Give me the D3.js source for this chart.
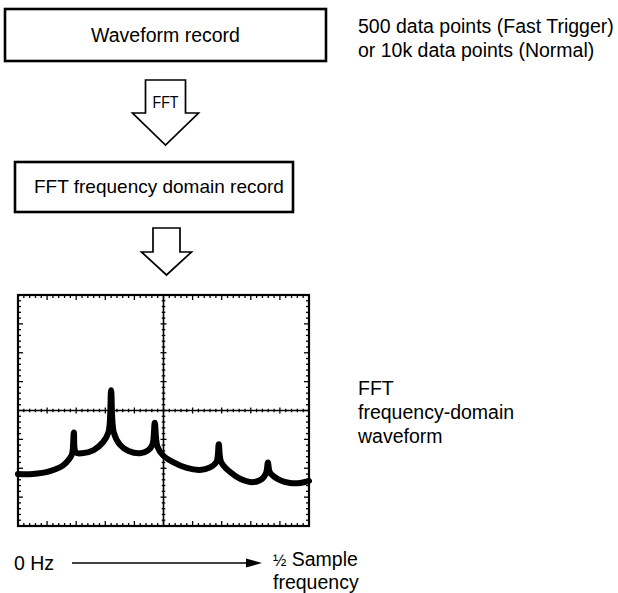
<!DOCTYPE html>
<html>
<head>
<meta charset="utf-8">
<script src="https://cdn.jsdelivr.net/npm/d3@7"></script>
<style>
  html, body { margin: 0; padding: 0; background: #fff; }
  text { font-family: "Liberation Sans", Arial, Helvetica, sans-serif; fill: #000; }
</style>
</head>
<body>
<script>
// ---- data ----
const boxLabels = ["Waveform record", "FFT frequency domain record"];
const arrowLabel = "FFT";
const topNote = ["500 data points (Fast Trigger)", "or 10k data points (Normal)"];
const sideNote = ["FFT", "frequency-domain", "waveform"];
const axisStartLabel = "0 Hz";
const axisEndLabel = ["½ Sample", "frequency"];
const xDivisions = 10;   // horizontal graticule divisions
const yDivisions = 8;    // vertical graticule divisions
const minorPerDiv = 5;
// waveform trace, in graticule divisions (x: 0..10, y: 0..8 from bottom)
const waveX = [0, 0.5, 1.1, 1.55, 1.78, 1.86, 1.92, 1.99, 2.2, 2.6, 2.92, 3.11, 3.20, 3.29, 3.50, 3.80, 4.20, 4.47, 4.62, 4.70, 4.79, 4.98, 5.33, 5.80, 6.25, 6.60, 6.82, 6.90, 6.98, 7.30, 7.65, 8.08, 8.40, 8.53, 8.59, 8.66, 9.0, 9.35, 9.70, 10.0];
const waveY = [1.80, 1.80, 1.90, 2.10, 2.35, 2.50, 3.24, 2.55, 2.52, 2.63, 2.90, 3.25, 4.70, 3.25, 2.82, 2.60, 2.52, 2.62, 2.82, 3.58, 2.75, 2.45, 2.21, 2.01, 1.94, 2.03, 2.22, 2.83, 2.22, 1.86, 1.63, 1.52, 1.64, 1.85, 2.20, 1.85, 1.59, 1.49, 1.49, 1.56];

// ---- layout ----
const W = 618, H = 593;
const svg = d3.select("body").append("svg").attr("width", W).attr("height", H);
const FS = 19.5;

// Boxes
const box1 = {x: 5, y: 9, w: 321, h: 52};
const box2 = {x: 15, y: 162, w: 278, h: 50};
svg.append("rect").attr("x", box1.x).attr("y", box1.y).attr("width", box1.w).attr("height", box1.h)
  .attr("fill", "none").attr("stroke", "#000").attr("stroke-width", 2.6);
svg.append("text").attr("x", box1.x + box1.w / 2).attr("y", 42).attr("text-anchor", "middle")
  .attr("font-size", FS).text(boxLabels[0]);
svg.append("rect").attr("x", box2.x).attr("y", box2.y).attr("width", box2.w).attr("height", box2.h)
  .attr("fill", "none").attr("stroke", "#000").attr("stroke-width", 2.6);
svg.append("text").attr("x", 34).attr("y", 193).attr("font-size", 19).text(boxLabels[1]);

// Hollow block arrows
function blockArrow(cx, top, shaftHalf, shoulder, headHalf, tip) {
  const p = d3.path();
  p.moveTo(cx - shaftHalf, top);
  p.lineTo(cx + shaftHalf, top);
  p.lineTo(cx + shaftHalf, shoulder);
  p.lineTo(cx + headHalf, shoulder);
  p.lineTo(cx, tip);
  p.lineTo(cx - headHalf, shoulder);
  p.lineTo(cx - shaftHalf, shoulder);
  p.closePath();
  svg.append("path").attr("d", p.toString()).attr("fill", "#fff")
    .attr("stroke", "#000").attr("stroke-width", 1.7).attr("stroke-linejoin", "miter");
}
blockArrow(165.5, 80, 20, 113, 33, 145);
svg.append("text").attr("x", 165.5).attr("y", 108).attr("text-anchor", "middle")
  .attr("font-size", 16).attr("textLength", 26).attr("lengthAdjust", "spacingAndGlyphs").text(arrowLabel);
blockArrow(166.5, 228, 13.5, 252, 25, 275);

// Notes
svg.append("g").selectAll("text").data(topNote).join("text")
  .attr("x", 358).attr("y", (d, i) => 33 + i * 24).attr("font-size", FS).text(d => d);
svg.append("g").selectAll("text").data(sideNote).join("text")
  .attr("x", 358).attr("y", (d, i) => 395 + i * 24).attr("font-size", FS).text(d => d);

// ---- graticule ----
const gx0 = 18, gx1 = 309, gy0 = 295, gy1 = 526;
const x = d3.scaleLinear().domain([0, xDivisions]).range([gx0, gx1]);
const y = d3.scaleLinear().domain([0, yDivisions]).range([gy1, gy0]);
const g = svg.append("g");

const xt = d3.range(1, xDivisions * minorPerDiv).map(i => ({v: i / minorPerDiv, major: i % minorPerDiv === 0}));
const yt = d3.range(1, yDivisions * minorPerDiv).map(i => ({v: i / minorPerDiv, major: i % minorPerDiv === 0}));
const tl = d => d.major ? 5 : 3;
const tickStyle = sel => sel.attr("stroke", "#000").attr("stroke-width", 1.3);

// bottom & top border ticks (inward)
g.append("g").selectAll("line").data(xt).join("line")
  .attr("x1", d => x(d.v)).attr("x2", d => x(d.v))
  .attr("y1", y(0)).attr("y2", d => y(0) - tl(d)).call(tickStyle);
g.append("g").selectAll("line").data(xt).join("line")
  .attr("x1", d => x(d.v)).attr("x2", d => x(d.v))
  .attr("y1", y(yDivisions)).attr("y2", d => y(yDivisions) + tl(d)).call(tickStyle);
// left & right border ticks (inward)
g.append("g").selectAll("line").data(yt).join("line")
  .attr("y1", d => y(d.v)).attr("y2", d => y(d.v))
  .attr("x1", x(0)).attr("x2", d => x(0) + tl(d)).call(tickStyle);
g.append("g").selectAll("line").data(yt).join("line")
  .attr("y1", d => y(d.v)).attr("y2", d => y(d.v))
  .attr("x1", x(xDivisions)).attr("x2", d => x(xDivisions) - tl(d)).call(tickStyle);
// center-line ticks (crossing)
const cx = x(xDivisions / 2), cy = y(yDivisions / 2);
g.append("g").selectAll("line").data(xt).join("line")
  .attr("x1", d => x(d.v)).attr("x2", d => x(d.v))
  .attr("y1", d => cy - tl(d) * 0.6).attr("y2", d => cy + tl(d) * 0.6).call(tickStyle);
g.append("g").selectAll("line").data(yt).join("line")
  .attr("y1", d => y(d.v)).attr("y2", d => y(d.v))
  .attr("x1", d => cx - tl(d) * 0.6).attr("x2", d => cx + tl(d) * 0.6).call(tickStyle);

// center lines
g.append("line").attr("x1", cx).attr("x2", cx).attr("y1", y(0)).attr("y2", y(yDivisions))
  .attr("stroke", "#000").attr("stroke-width", 1.6);
g.append("line").attr("y1", cy).attr("y2", cy).attr("x1", x(0)).attr("x2", x(xDivisions))
  .attr("stroke", "#000").attr("stroke-width", 1.6);
// border
g.append("rect").attr("x", x(0)).attr("y", y(yDivisions))
  .attr("width", x(xDivisions) - x(0)).attr("height", y(0) - y(yDivisions))
  .attr("fill", "none").attr("stroke", "#000").attr("stroke-width", 2.2);

// waveform
const wave = waveX.map((v, i) => [v, waveY[i]]);
const line = d3.line().x(d => x(d[0])).y(d => y(d[1])).curve(d3.curveCatmullRom.alpha(0.5));
g.append("path").attr("d", line(wave)).attr("fill", "none").attr("stroke", "#000")
  .attr("stroke-width", 6).attr("stroke-linejoin", "round").attr("stroke-linecap", "round");

// ---- frequency arrow ----
svg.append("text").attr("x", 14).attr("y", 570).attr("font-size", FS).text(axisStartLabel);
svg.append("line").attr("x1", 72).attr("x2", 250).attr("y1", 563).attr("y2", 563)
  .attr("stroke", "#000").attr("stroke-width", 1.5);
svg.append("path").attr("d", "M262,563 L246,558.5 L246,567.5 Z").attr("fill", "#000");
const endT = svg.append("text").attr("x", 273).attr("y", 566).attr("font-size", FS);
endT.append("tspan").attr("font-size", 16).text(axisEndLabel[0].slice(0, 1));
endT.append("tspan").text(axisEndLabel[0].slice(1));
svg.append("text").attr("x", 273).attr("y", 589).attr("font-size", FS).text(axisEndLabel[1]);
</script>
</body>
</html>
